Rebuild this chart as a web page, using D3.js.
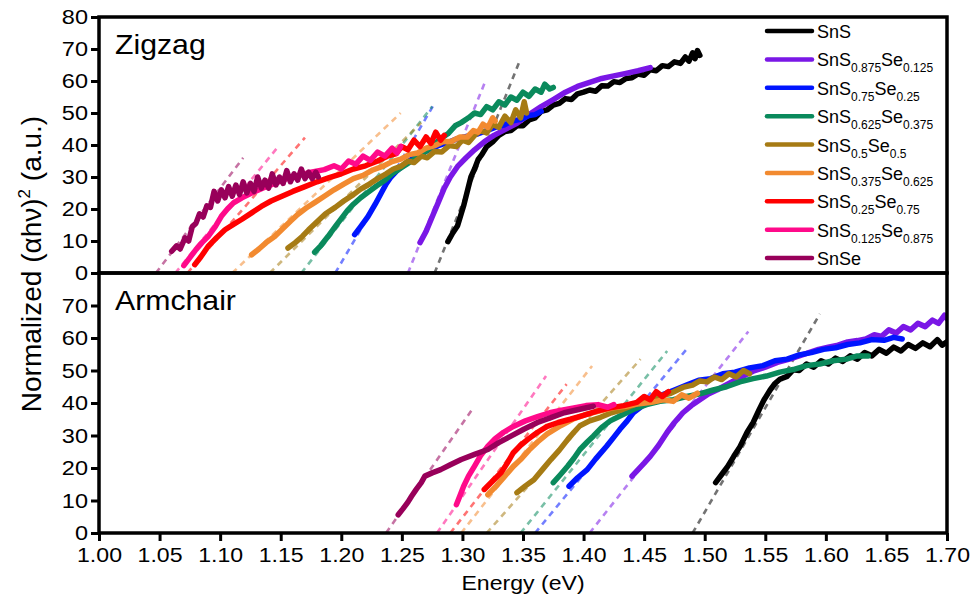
<!DOCTYPE html>
<html>
<head>
<meta charset="utf-8">
<script src="https://cdn.jsdelivr.net/npm/d3@7"></script>
<style>
  body { margin: 0; background: #fff; }
  svg text { font-family: "Liberation Sans", Arial, sans-serif; fill: #000; }
</style>
</head>
<body>
<div id="chart"></div>
<script>
// ---- data ----
var xTicks = [1.00, 1.05, 1.10, 1.15, 1.20, 1.25, 1.30, 1.35, 1.40, 1.45, 1.50, 1.55, 1.60, 1.65, 1.70];
var yTicksTop = [0, 10, 20, 30, 40, 50, 60, 70, 80];
var yTicksBottom = [0, 10, 20, 30, 40, 50, 60, 70];

var names = ["SnS", "SnS0.875Se0.125", "SnS0.75Se0.25", "SnS0.625Se0.375", "SnS0.5Se0.5",
             "SnS0.375Se0.625", "SnS0.25Se0.75", "SnS0.125Se0.875", "SnSe"];
var sFrac  = ["", "0.875", "0.75", "0.625", "0.5", "0.375", "0.25", "0.125", ""];
var seFrac = ["", "0.125", "0.25", "0.375", "0.5", "0.625", "0.75", "0.875", ""];
var colors = ["#000000", "#7a17e6", "#0015ff", "#0a8a5c", "#a67b14", "#f28a30", "#ff0000", "#ff0a8a", "#98005a"];

// Zigzag curves [energy, value]
var zzSnS = [[1.288,9.8],[1.292,12.5],[1.296,14.8],[1.299,18.5],[1.301,21],[1.304,25.5],[1.307,30],[1.310,32.5],[1.313,35.5],[1.316,37],[1.320,39.5],[1.325,41],[1.330,43],[1.335,44.2],[1.340,44.5],[1.345,46],[1.350,46],[1.355,47.8],[1.360,48.5],[1.365,50.5],[1.370,51],[1.375,52.5],[1.380,53],[1.385,54.5],[1.390,54.2],[1.395,56],[1.400,56.5],[1.405,57.2],[1.410,56.8],[1.415,58.5],[1.420,58.4],[1.425,59.8],[1.430,59.5],[1.435,60.8],[1.440,61],[1.445,62.2],[1.450,61.8],[1.455,63.5],[1.460,63.2],[1.465,64.8],[1.470,64.5],[1.475,66],[1.480,65.5],[1.484,67.5],[1.487,66.2],[1.490,68.8],[1.492,67],[1.494,69.5],[1.496,68]];
var zzS875 = [[1.265,9.5],[1.270,13],[1.275,17.5],[1.280,22],[1.285,26.5],[1.290,30],[1.296,33.3],[1.303,36],[1.310,38.5],[1.318,41],[1.326,43],[1.335,44.8],[1.345,46.8],[1.355,49.5],[1.365,52],[1.375,54.2],[1.385,56.5],[1.395,58.3],[1.405,59.6],[1.415,60.8],[1.425,61.6],[1.435,62.4],[1.445,63.2],[1.455,64.2]];
var zzS75 = [[1.211,12],[1.216,14.5],[1.222,17.6],[1.228,21.5],[1.233,25],[1.237,27.8],[1.241,30],[1.246,32],[1.252,34],[1.258,35.5],[1.265,37],[1.272,38.5],[1.280,39.8],[1.288,40.8],[1.296,42],[1.305,42.8],[1.313,43.5],[1.320,44.5],[1.327,45.5],[1.334,46.2],[1.341,47.5],[1.348,48],[1.355,49.2],[1.360,49.5],[1.365,50.5]];
var zzS625 = [[1.178,6.5],[1.183,8.5],[1.189,11.4],[1.195,14.5],[1.200,17],[1.205,19.5],[1.210,21.5],[1.216,23.5],[1.222,25.2],[1.229,27.2],[1.236,29],[1.242,31],[1.247,32.3],[1.254,34],[1.261,35.8],[1.268,37.5],[1.275,39.5],[1.282,42],[1.288,43.5],[1.294,46],[1.299,47],[1.305,48.5],[1.310,50],[1.315,49.5],[1.320,52],[1.325,51],[1.330,53.5],[1.335,52.5],[1.340,55],[1.345,54],[1.350,56.5],[1.355,55.2],[1.360,57.5],[1.365,56.5],[1.368,59],[1.372,57.5],[1.375,58]];
var zzS5 = [[1.156,7.8],[1.162,9.5],[1.168,11.5],[1.173,13.5],[1.180,16],[1.187,18.5],[1.195,20.5],[1.202,22.5],[1.210,24.5],[1.216,26.2],[1.222,27.5],[1.230,29.5],[1.237,31],[1.243,32.5],[1.249,33.3],[1.255,35],[1.260,34.5],[1.266,36.5],[1.271,36],[1.277,38],[1.283,37.8],[1.289,39.8],[1.295,39.5],[1.300,41.5],[1.305,40.8],[1.310,43],[1.315,44.5],[1.320,43.8],[1.325,46.5],[1.330,45.5],[1.335,49],[1.340,47],[1.344,51],[1.348,48.5],[1.351,53.5],[1.353,50]];
var zzS375 = [[1.126,5.7],[1.132,7.5],[1.138,9.5],[1.145,11.4],[1.152,14],[1.158,16.2],[1.164,18.3],[1.171,20.3],[1.178,22],[1.186,24],[1.194,26],[1.202,27.8],[1.210,29.5],[1.218,30.5],[1.226,32.2],[1.234,33.3],[1.242,34.8],[1.249,35.6],[1.256,37],[1.263,37.5],[1.270,39],[1.277,39.8],[1.284,41],[1.291,41.2],[1.298,42.5],[1.304,42.5],[1.309,44.5],[1.313,44],[1.317,46.5],[1.321,45.5],[1.325,48.5],[1.327,47.5]];
var zzS25 = [[1.079,2.6],[1.084,5],[1.090,8.3],[1.097,11],[1.104,13.5],[1.111,15.2],[1.118,16.8],[1.126,18.8],[1.134,20.8],[1.142,22.5],[1.151,24],[1.160,25.5],[1.170,27],[1.180,28.5],[1.190,29.8],[1.200,31],[1.210,32.5],[1.220,33.5],[1.230,35],[1.238,36.5],[1.245,37.2],[1.250,39.5],[1.255,38.5],[1.260,41.5],[1.265,39.5],[1.270,42.5],[1.274,40.5],[1.278,44],[1.282,41.5],[1.285,43]];
var zzS125 = [[1.070,2.3],[1.075,4.8],[1.080,7.3],[1.085,9.5],[1.090,11.4],[1.096,14.5],[1.101,17.7],[1.106,20],[1.111,21.9],[1.118,23.5],[1.126,25],[1.135,26.5],[1.145,28],[1.155,29.5],[1.165,30.5],[1.175,31.5],[1.186,32.3],[1.194,33.5],[1.200,32.5],[1.206,35],[1.212,34],[1.218,36.5],[1.224,35.2],[1.230,37.8],[1.236,36.5],[1.242,39],[1.246,37.5],[1.249,39.6]];
var zzSnSe = [[1.060,6.8],[1.064,8.5],[1.067,7.5],[1.071,11],[1.074,10],[1.077,14.5],[1.080,15.5],[1.083,18.5],[1.086,17.5],[1.089,21],[1.092,20.5],[1.095,25.5],[1.098,22.5],[1.101,26],[1.104,23.5],[1.107,27],[1.110,24],[1.113,27.5],[1.116,24.5],[1.119,28.5],[1.122,25],[1.125,28],[1.128,25.5],[1.131,30],[1.134,26.5],[1.137,29],[1.140,26.5],[1.143,31],[1.146,27.5],[1.149,30],[1.152,28],[1.155,32],[1.158,28.5],[1.161,31],[1.164,29],[1.167,32.5],[1.170,29.5],[1.173,31.5],[1.176,29.5],[1.179,31.5],[1.181,30]];

// Zigzag tangent lines [x0, y0, x1, y1]
var zzFits = [[1.277,0,1.347,66],[1.255,0,1.319,60],[1.195,0,1.277,53],[1.167,0,1.275,52],[1.141,0,1.266,47],
              [1.110,0,1.249,50],[1.073,0,1.170,42.3],[1.063,0,1.149,40],[1.047,0,1.119,36]];

// Armchair curves
var acSnS = [[1.509,15.5],[1.514,18],[1.519,20.5],[1.524,23.6],[1.529,26.5],[1.535,31],[1.540,34],[1.545,38],[1.549,41],[1.554,44],[1.558,46],[1.562,47.3],[1.568,48.2],[1.573,50.2],[1.578,50],[1.584,52],[1.590,51],[1.596,53],[1.602,52],[1.608,53.8],[1.614,52.8],[1.620,54.5],[1.626,53.5],[1.632,55.5],[1.638,54.5],[1.644,56.5],[1.650,55.3],[1.656,57.2],[1.662,56],[1.668,58],[1.674,56.8],[1.680,58.5],[1.686,57.3],[1.692,59.5],[1.696,57.8],[1.700,58.8]];
var acS875 = [[1.440,17.5],[1.445,19.5],[1.450,21.5],[1.455,23.6],[1.462,27],[1.469,31],[1.475,34],[1.482,37],[1.489,39.2],[1.496,41],[1.503,42.8],[1.510,44],[1.520,46],[1.530,48],[1.540,49.8],[1.550,51],[1.560,52.5],[1.570,53.5],[1.578,54.5],[1.586,55.5],[1.594,56.5],[1.602,57.2],[1.610,57.8],[1.618,58.8],[1.626,59.2],[1.633,59.7],[1.640,61],[1.646,60.5],[1.652,62.5],[1.658,61.5],[1.664,63.5],[1.670,62.5],[1.676,64.5],[1.682,63.5],[1.688,65.5],[1.693,64.5],[1.698,67],[1.700,66]];
var acS75 = [[1.388,14.4],[1.395,17],[1.403,19.5],[1.410,22.8],[1.419,26.7],[1.425,29.5],[1.430,31.9],[1.436,34.5],[1.441,37],[1.448,39],[1.456,41],[1.465,42.5],[1.475,44],[1.485,45.5],[1.495,47],[1.505,47.5],[1.515,49],[1.525,49.5],[1.537,50.8],[1.548,51.5],[1.558,53],[1.568,53.5],[1.578,54.8],[1.588,55.5],[1.598,56.5],[1.608,57],[1.618,58],[1.628,58.5],[1.638,59.5],[1.648,59.3],[1.656,60.2],[1.663,59.7]];
var acS625 = [[1.375,15.5],[1.381,18],[1.387,20.6],[1.392,23],[1.397,25.7],[1.403,28],[1.408,29.8],[1.415,32.5],[1.422,34.5],[1.430,36],[1.441,38],[1.452,39.5],[1.463,40.5],[1.474,41],[1.485,42],[1.496,42.8],[1.507,44],[1.518,45],[1.529,46.5],[1.540,47.5],[1.551,48.3],[1.562,49.5],[1.573,50.3],[1.584,51.5],[1.595,52],[1.606,53],[1.617,53.5],[1.626,54.5],[1.635,54.5]];
var acS5 = [[1.345,12.4],[1.352,14.5],[1.359,16.4],[1.366,19.5],[1.373,22.6],[1.380,25.5],[1.387,28.8],[1.392,31],[1.397,33],[1.405,34.5],[1.414,35.6],[1.423,37],[1.432,38],[1.442,39.5],[1.452,40.5],[1.462,42],[1.472,43],[1.482,44.8],[1.490,45.5],[1.496,46.8],[1.502,46.5],[1.508,48],[1.514,47.2],[1.520,49],[1.526,48],[1.532,50],[1.537,49]];
var acS375 = [[1.321,11.8],[1.328,14.5],[1.335,17.5],[1.342,20.5],[1.348,22.6],[1.355,25.5],[1.362,28],[1.370,30.5],[1.381,33],[1.391,35],[1.402,36.5],[1.413,37.5],[1.424,38.5],[1.435,39],[1.446,39.8],[1.456,40.2],[1.466,41],[1.474,40.5],[1.481,42.5],[1.487,41.5],[1.494,43]];
var acS25 = [[1.318,13.4],[1.325,16],[1.332,18.6],[1.337,21.5],[1.342,24.7],[1.348,27],[1.354,28.8],[1.362,31],[1.370,32.8],[1.379,34],[1.389,35],[1.400,36.2],[1.411,37.5],[1.422,38.5],[1.433,39.2],[1.444,40.2],[1.450,42],[1.455,41],[1.460,43.5],[1.465,42],[1.470,43.5]];
var acS125 = [[1.295,8.7],[1.298,11.5],[1.301,14.4],[1.305,17.5],[1.310,20.6],[1.315,23.8],[1.321,26.7],[1.327,29],[1.334,31],[1.342,32.8],[1.352,34.5],[1.362,35.8],[1.372,37],[1.382,37.8],[1.392,38.5],[1.402,39.2],[1.412,39.5],[1.420,38.7],[1.425,39.5]];
var acSnSe = [[1.247,5.6],[1.251,7.5],[1.255,9.5],[1.258,11.3],[1.262,13.5],[1.266,15.5],[1.269,17.5],[1.275,18.5],[1.282,19.5],[1.290,21],[1.299,22.6],[1.310,24.2],[1.321,25.7],[1.330,27.8],[1.340,29.8],[1.351,32],[1.362,34],[1.373,35.5],[1.384,37],[1.396,38],[1.408,39]];

var acFits = [[1.490,0,1.595,67.4],[1.405,0,1.536,62],[1.360,0,1.486,57],[1.348,0,1.469,56],[1.320,0,1.447,53.5],
              [1.299,0,1.407,51.4],[1.290,0,1.386,45.8],[1.279,0,1.369,48.3],[1.237,0,1.308,38]];

var zigzag = [zzSnS, zzS875, zzS75, zzS625, zzS5, zzS375, zzS25, zzS125, zzSnSe];
var armchair = [acSnS, acS875, acS75, acS625, acS5, acS375, acS25, acS125, acSnSe];

// ---- layout ----
var width = 972, height = 600;
var plotLeft = 99, plotRight = 947, plotTop = 17, plotMid = 273, plotBottom = 533;
var font = "'Liberation Sans', Arial, sans-serif";

// text in the picture is a little wider than plain Arial
function stretch(sel, sx) {
    sel.each(function() {
        var t = d3.select(this);
        var px = +t.attr("x") || 0, py = +t.attr("y") || 0;
        t.attr("transform", "translate(" + px + "," + py + ") scale(" + sx + ",1) translate(" + (-px) + "," + (-py) + ")");
    });
}

var svg = d3.select("#chart").append("svg")
    .attr("width", width)
    .attr("height", height);

var x = d3.scaleLinear().domain([1.0, 1.7]).range([plotLeft, plotRight]);
var yTop = d3.scaleLinear().domain([0, 80]).range([plotMid, plotTop]);
var yBottom = d3.scaleLinear().domain([0, 80]).range([plotBottom, plotMid]);

var panels = [
    {name: "Zigzag", y: yTop, curves: zigzag, fits: zzFits, ticks: yTicksTop, y0: plotTop, y1: plotMid},
    {name: "Armchair", y: yBottom, curves: armchair, fits: acFits, ticks: yTicksBottom, y0: plotMid, y1: plotBottom}
];

panels.forEach(function(p, i) {
    svg.append("clipPath").attr("id", "clip" + i)
        .append("rect")
        .attr("x", plotLeft).attr("y", p.y0)
        .attr("width", plotRight - plotLeft).attr("height", p.y1 - p.y0);

    var g = svg.append("g").attr("clip-path", "url(#clip" + i + ")");

    var line = d3.line()
        .x(d => x(d[0]))
        .y(d => p.y(d[1]));

    // dashed tangents
    g.selectAll(".fit")
        .data(p.fits)
        .enter()
        .append("line")
        .attr("x1", d => x(d[0]))
        .attr("y1", d => p.y(d[1]))
        .attr("x2", d => x(d[2]))
        .attr("y2", d => p.y(d[3]))
        .attr("stroke", (d, k) => colors[k])
        .attr("stroke-opacity", 0.55)
        .attr("stroke-width", 2.6)
        .attr("stroke-dasharray", "6,5");

    // curves
    g.selectAll(".curve")
        .data(p.curves)
        .enter()
        .append("path")
        .attr("d", line)
        .attr("fill", "none")
        .attr("stroke", (d, k) => colors[k])
        .attr("stroke-width", 5.5)
        .attr("stroke-linejoin", "round")
        .attr("stroke-linecap", "round");

    // y axis
    var ax = svg.append("g")
        .attr("transform", "translate(" + plotLeft + ",0)")
        .call(d3.axisLeft(p.y).tickValues(p.ticks).tickFormat(d3.format("d"))
            .tickSizeInner(8).tickSizeOuter(0).tickPadding(3));
    ax.select(".domain").remove();
    ax.selectAll("line").attr("stroke", "#000").attr("stroke-width", 3);
    ax.selectAll("text").attr("font-size", 21).style("font-family", font).call(stretch, 1.12);

    // frame
    svg.append("rect")
        .attr("x", plotLeft).attr("y", p.y0)
        .attr("width", plotRight - plotLeft).attr("height", p.y1 - p.y0)
        .attr("fill", "none")
        .attr("stroke", "#000")
        .attr("stroke-width", 3.5);

    svg.append("text")
        .attr("x", 115)
        .attr("y", p.y0 + 37)
        .attr("font-size", 28)
        .text(p.name)
        .call(stretch, 1.08);
});

// x axis
var xa = svg.append("g")
    .attr("transform", "translate(0," + plotBottom + ")")
    .call(d3.axisBottom(x).tickValues(xTicks).tickFormat(d3.format(".2f"))
        .tickSizeInner(8).tickSizeOuter(0).tickPadding(6));
xa.select(".domain").remove();
xa.selectAll("line").attr("stroke", "#000").attr("stroke-width", 3);
xa.selectAll("text").attr("font-size", 21).style("font-family", font).call(stretch, 1.1);

// axis titles
svg.append("text")
    .attr("x", (plotLeft + plotRight) / 2)
    .attr("y", 590)
    .attr("text-anchor", "middle")
    .attr("font-size", 21)
    .text("Energy (eV)")
    .call(stretch, 1.1);

var yt = svg.append("text")
    .attr("transform", "translate(41,264) rotate(-90)")
    .attr("text-anchor", "middle")
    .attr("font-size", 28);
yt.append("tspan").text("Normalized (\u03B1h\u03BD)");
yt.append("tspan").attr("font-size", 17).attr("dy", -11).text("2");
yt.append("tspan").attr("dy", 11).text(" (a.u.)");

// legend
var legend = svg.append("g");
var rowY = d3.scalePoint().domain(names).range([31, 258]);

legend.selectAll("line")
    .data(names)
    .enter()
    .append("line")
    .attr("x1", 767).attr("x2", 812)
    .attr("y1", d => rowY(d)).attr("y2", d => rowY(d))
    .attr("stroke", (d, i) => colors[i])
    .attr("stroke-width", 4.5)
    .attr("stroke-linecap", "round");

names.forEach(function(n, i) {
    var t = legend.append("text")
        .attr("x", 817)
        .attr("y", rowY(n) + 7)
        .attr("font-size", 18);
    if (sFrac[i] === "") {
        t.text(n);
    } else {
        t.append("tspan").text("SnS");
        t.append("tspan").attr("font-size", 12).attr("dy", 6).text(sFrac[i]);
        t.append("tspan").attr("dy", -6).text("Se");
        t.append("tspan").attr("font-size", 12).attr("dy", 6).text(seFrac[i]);
    }
});
</script>
</body>
</html>
